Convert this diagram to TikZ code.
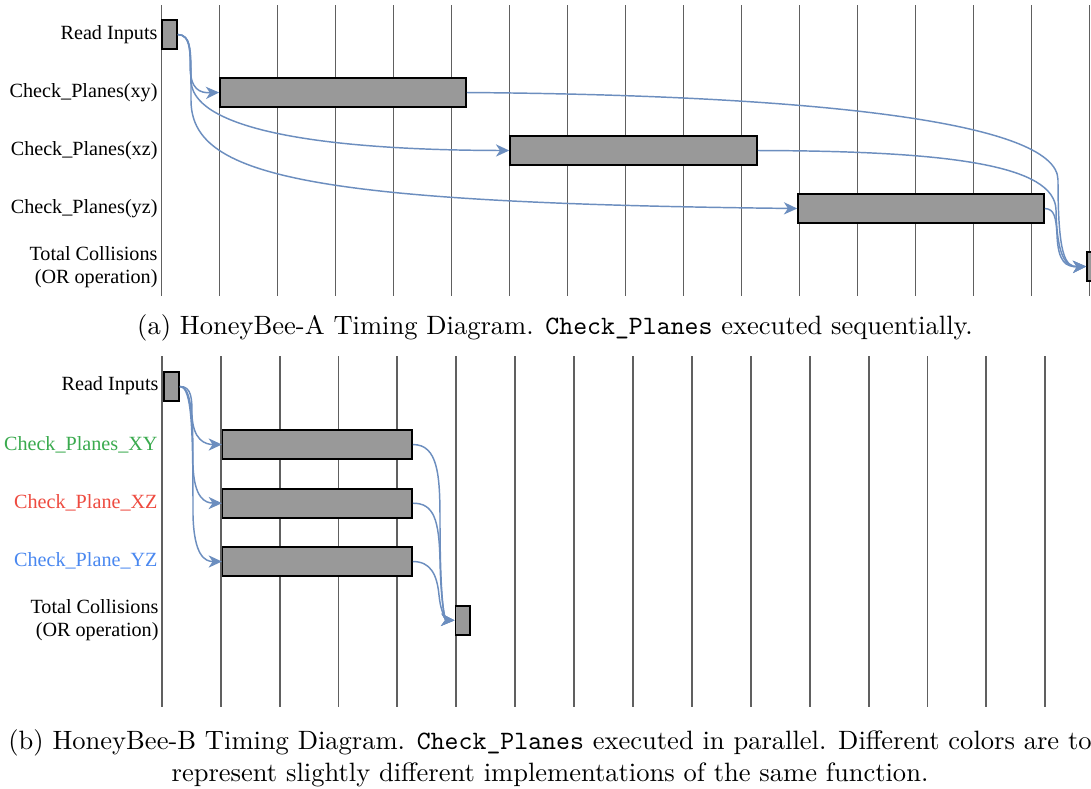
\documentclass[tikz,border=0pt]{standalone}
\usepackage{fontspec}
\newfontfamily\lblfont{Liberation Serif}
\usetikzlibrary{arrows.meta,fit}
\definecolor{flow}{HTML}{6C8EBF}
\definecolor{barfill}{HTML}{999999}
\definecolor{gridline}{HTML}{606060}
\definecolor{lblgreen}{HTML}{3AAA4E}
\definecolor{lblred}{HTML}{EE4B40}
\definecolor{lblblue}{HTML}{4A88F0}

\begin{document}
\begin{tikzpicture}[x=0.377pt,y=-0.377pt,
  tick/.style={draw=gridline,line width=0.7pt},
  bar/.style={draw=black,fill=barfill,line width=0.6pt,inner sep=0pt},
  flowline/.style={draw=flow,line width=0.55pt,-{Stealth[length=5pt,width=4.6pt,inset=1.5pt]}},
  rowlabel/.style={font=\lblfont\fontsize{7.6}{8.7}\selectfont,anchor=east,inner sep=0pt,align=right},
  caption/.style={font=\fontsize{10}{12}\selectfont,inner sep=0pt}]
\useasboundingbox (0,0) rectangle (1091,788);
\fill[white] (0,0) rectangle (1091,788);

% ---------- (a) sequential schedule ----------
\foreach \k in {0,...,16}
  \draw[tick] ({161.5+58*\k},5) -- ({161.5+58*\k},296);

\node[bar,fit={(162,20) (177,49)}] (ari) {};
\node[bar,fit={(220,78) (466,107)}] (axy) {};
\node[bar,fit={(510,136) (757,165)}] (axz) {};
\node[bar,fit={(798,194) (1044,223)}] (ayz) {};
\node[bar,fit={(1087,252) (1102,281)}] (atot) {};

\node[rowlabel] (lari) at (158,35) {Read Inputs};
\node[rowlabel] (laxy) at (158,93) {Check\_Planes(xy)};
\node[rowlabel] (laxz) at (158,151) {Check\_Planes(xz)};
\node[rowlabel] (layz) at (158,209) {Check\_Planes(yz)};
\node[rowlabel] (latot) at (158,267) {Total Collisions\\(OR operation)};

\draw[flowline] (ari.east) .. controls (191,35) and (190,50) .. (190,65)
  .. controls (190,90) and (200,93) .. (axy.west);
\draw[flowline] (ari.east) .. controls (191,35) and (191,50) .. (191,80)
  .. controls (191,125) and (300,150) .. (axz.west);
\draw[flowline] (ari.east) .. controls (191,35) and (191,50) .. (191,100)
  .. controls (191,175) and (300,203) .. (ayz.west);

\draw[flowline] (axy.east) .. controls (800,95) and (1058,120) .. (1058,180)
  .. controls (1058,255) and (1065,267) .. (atot.west);
\draw[flowline] (axz.east) .. controls (950,151) and (1055,165) .. (1056,210)
  .. controls (1057,255) and (1065,267) .. (atot.west);
\draw[flowline] (ayz.east) .. controls (1054,209) and (1056,216) .. (1057,235)
  .. controls (1058,262) and (1066,267) .. (atot.west);

\node[caption] (capa) at (555,328)
  {(a) HoneyBee-A Timing Diagram. \texttt{Check\_Planes} executed sequentially.};

% ---------- (b) parallel schedule ----------
\foreach \k in {0,...,15}
  \draw[tick] ({161.8+58.9*\k},356) -- ({161.8+58.9*\k},707);

\node[bar,fit={(164,372) (179,401)}] (bri) {};
\node[bar,fit={(222.7,430) (412,459)}] (bxy) {};
\node[bar,fit={(222.7,488.7) (412,517.7)}] (bxz) {};
\node[bar,fit={(222.7,547) (412,576)}] (byz) {};
\node[bar,fit={(455.3,605.7) (470,635)}] (btot) {};

\node[rowlabel] (lbri) at (159,386) {Read Inputs};
\node[rowlabel,text=lblgreen] (lbxy) at (158,445) {Check\_Planes\_XY};
\node[rowlabel,text=lblred] (lbxz) at (158,503) {Check\_Plane\_XZ};
\node[rowlabel,text=lblblue] (lbyz) at (158,561) {Check\_Plane\_YZ};
\node[rowlabel] (lbtot) at (159,620) {Total Collisions\\(OR operation)};

\draw[flowline] (bri.east) .. controls (192,386) and (192,400) .. (192,415)
  .. controls (193,440) and (205,444.5) .. (bxy.west);
\draw[flowline] (bri.east) .. controls (192,386) and (193,420) .. (193,465)
  .. controls (194,498) and (205,503) .. (bxz.west);
\draw[flowline] (bri.east) .. controls (192,386) and (193,430) .. (193,515)
  .. controls (194,556) and (205,561.5) .. (byz.west);

\draw[flowline] (bxy.east) .. controls (438,444.5) and (440,475) .. (440,520)
  .. controls (440,605) and (445,620) .. (btot.west);
\draw[flowline] (bxz.east) .. controls (434,503) and (439,520) .. (440,560)
  .. controls (441,610) and (446,620) .. (btot.west);
\draw[flowline] (byz.east) .. controls (431,561.5) and (437,575) .. (439,595)
  .. controls (441,615) and (447,620) .. (btot.west);

\node[caption,align=center] (capb) at (550,758)
  {(b) HoneyBee-B Timing Diagram. \texttt{Check\_Planes} executed in parallel. Different colors are to\\
   represent slightly different implementations of the same function.};
\end{tikzpicture}
\end{document}
